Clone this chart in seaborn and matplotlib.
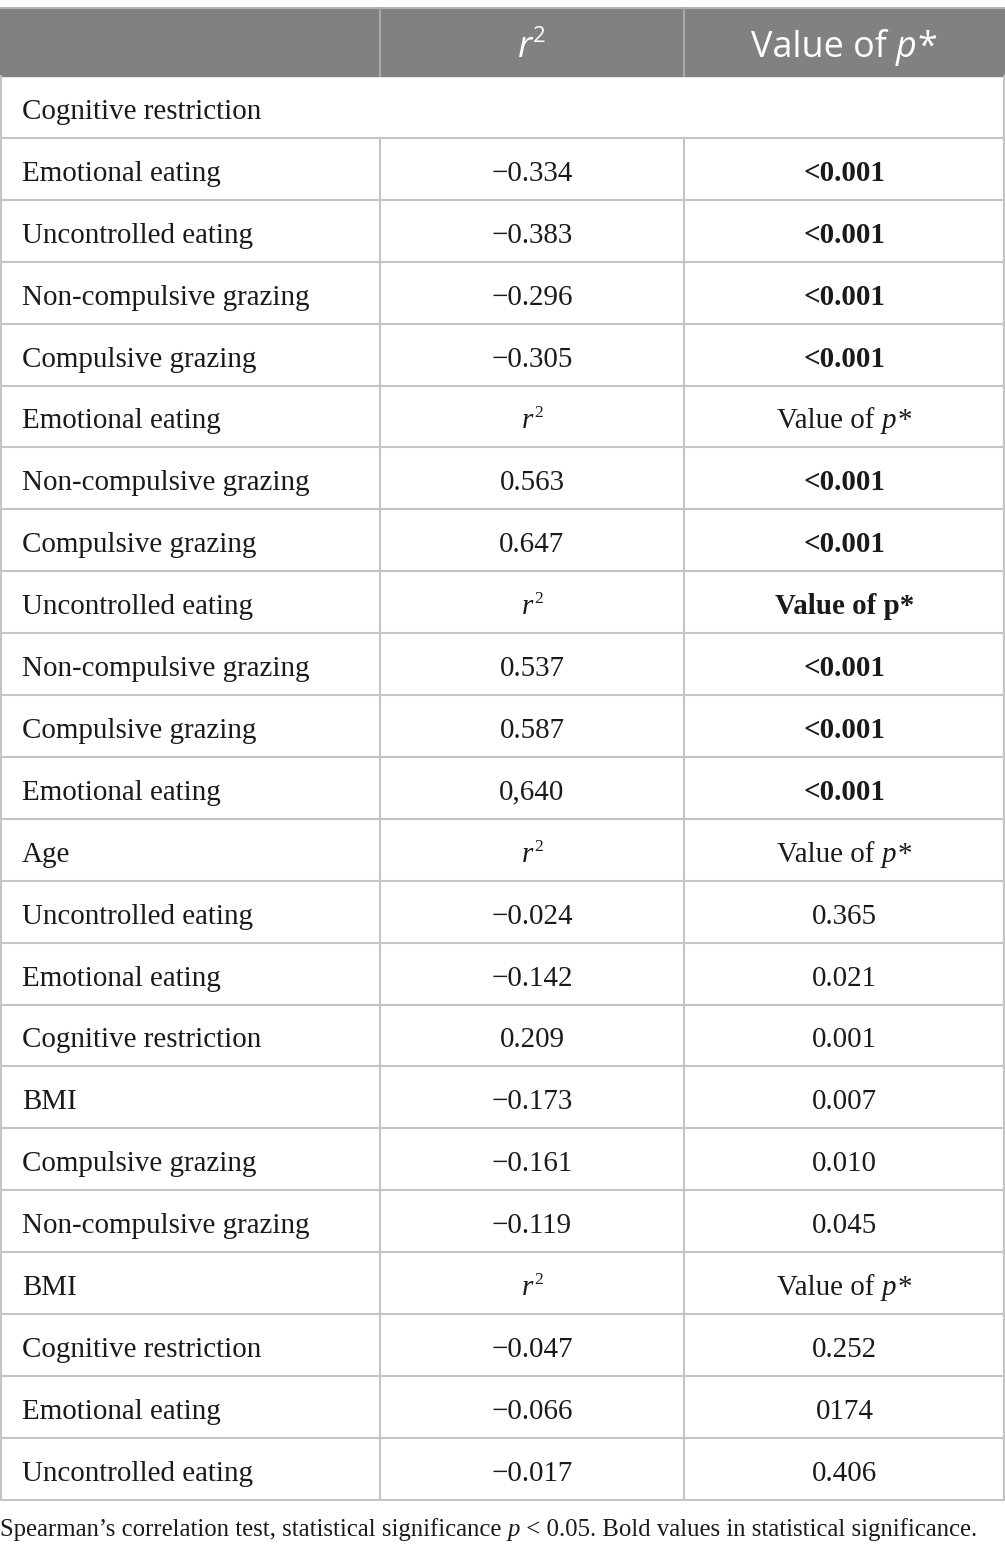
import matplotlib
matplotlib.use("Agg")
import matplotlib.pyplot as plt
import seaborn as sns

# table content
row_labels = [
    "Cognitive restriction", "Emotional eating", "Uncontrolled eating",
    "Non-compulsive grazing", "Compulsive grazing", "Emotional eating",
    "Non-compulsive grazing", "Compulsive grazing", "Uncontrolled eating",
    "Non-compulsive grazing", "Compulsive grazing", "Emotional eating",
    "Age", "Uncontrolled eating", "Emotional eating", "Cognitive restriction",
    "BMI", "Compulsive grazing", "Non-compulsive grazing", "BMI",
    "Cognitive restriction", "Emotional eating", "Uncontrolled eating",
]
r_values = [
    "", "\u22120.334", "\u22120.383", "\u22120.296", "\u22120.305", "r2",
    "0.563", "0.647", "r2", "0.537", "0.587", "0,640", "r2",
    "\u22120.024", "\u22120.142", "0.209", "\u22120.173", "\u22120.161",
    "\u22120.119", "r2", "\u22120.047", "\u22120.066", "\u22120.017",
]
p_values = [
    "", "<0.001", "<0.001", "<0.001", "<0.001", "Value of p*",
    "<0.001", "<0.001", "Value of p*", "<0.001", "<0.001", "<0.001",
    "Value of p*", "0.365", "0.021", "0.001", "0.007", "0.010", "0.045",
    "Value of p*", "0.252", "0174", "0.406",
]
p_bold = [
    False, True, True, True, True, False,
    True, True, True, True, True, True,
    False, False, False, False, False, False, False,
    False, False, False, False,
]
footnote = ("Spearman\u2019s correlation test, statistical significance ",
            "p", " < 0.05. Bold values in statistical significance.")

W, H = 1005, 1556
col_edges = [0, 380, 684, 1005]
top, head_h, row_h = 8, 68, 61.9
line_c = "#c4c4c4"
head_c = "#808281"

sns.set_theme(style="white")
serif = ["Liberation Serif", "DejaVu Serif"]
sans = ["Open Sans", "DejaVu Sans"]

fig = plt.figure(figsize=(W / 100, H / 100), dpi=100)
ax = fig.add_axes([0, 0, 1, 1])
ax.set_xlim(0, W)
ax.set_ylim(H, 0)
ax.axis("off")
renderer = fig.canvas.get_renderer()


def px(p):
    return p * 0.72


def draw_runs(x, y, parts, ha="left", size=29, family=serif, color="#1a1a1a"):
    # parts: (text, style, weight, scale, rise, gap_after_em)
    arts, widths = [], []
    for s, style, weight, scale, rise, gap in parts:
        t = ax.text(0, y - rise * size, s, fontsize=px(size * scale),
                    family=family, style=style, weight=weight,
                    color=color, ha="left", va="baseline")
        bb = t.get_window_extent(renderer)
        arts.append(t)
        widths.append(bb.width + gap * size)
    total = sum(widths)
    x0 = x - total / 2 if ha == "center" else x
    for t, w in zip(arts, widths):
        t.set_x(x0)
        x0 += w


def cell_parts(s, bold):
    wt = "bold" if bold else "normal"
    if s == "r2":
        return [("r", "italic", wt, 1, 0, 0.04), ("2", "normal", wt, 0.6, 0.38, 0)]
    if s == "Value of p*" and not bold:
        return [("Value of", "normal", wt, 1, 0, 0.25),
                ("p", "italic", wt, 1, 0, 0.02), ("*", "normal", wt, 1, 0, 0)]
    return [(s, "normal", wt, 1, 0, 0)]


# header
ax.add_patch(plt.Rectangle((0, top), W, head_h, color=head_c, zorder=0))
ax.plot([0, W], [top, top], color="#b5b5b5", lw=1.5)
for xe in col_edges[1:-1]:
    ax.plot([xe, xe], [top, top + head_h], color="#a9a9a9", lw=1.5)
hy = 57
hc = [(a + b) / 2 for a, b in zip(col_edges[:-1], col_edges[1:])]
draw_runs(hc[1], hy, [("r", "italic", "normal", 1, 0, 0.03),
                      ("2", "normal", "normal", 0.62, 0.42, 0)],
          ha="center", size=36, family=sans, color="white")
draw_runs(hc[2], hy, [("Value of", "normal", "normal", 1, 0, 0.25),
                      ("p", "italic", "normal", 1, 0, 0.02),
                      ("*", "normal", "normal", 1, 0, 0)],
          ha="center", size=36, family=sans, color="white")

# body
body_top = top + head_h
n = len(row_labels)
for i in range(n):
    y0 = body_top + i * row_h
    y1 = y0 + row_h
    ax.plot([0, W], [y1, y1], color=line_c, lw=1.5)
    if r_values[i] or p_values[i]:
        for xe in col_edges[1:-1]:
            ax.plot([xe, xe], [y0, y1], color=line_c, lw=1.5)
    base = y0 + row_h / 2 + 12
    draw_runs(22, base, [(row_labels[i], "normal", "normal", 1, 0, 0)])
    if r_values[i]:
        draw_runs(hc[1], base, cell_parts(r_values[i], False), ha="center")
    if p_values[i]:
        draw_runs(hc[2], base, cell_parts(p_values[i], p_bold[i]), ha="center")
body_bot = body_top + n * row_h
ax.plot([0.75, 0.75], [body_top, body_bot], color=line_c, lw=1.5)
ax.plot([W - 0.75, W - 0.75], [body_top, body_bot], color=line_c, lw=1.5)

# footnote
draw_runs(0, 1536, [(footnote[0], "normal", "normal", 1, 0, 0.0),
                    (footnote[1], "italic", "normal", 1, 0, 0.0),
                    (footnote[2], "normal", "normal", 1, 0, 0)],
          size=24.7)

fig.savefig("out.png", dpi=100)
